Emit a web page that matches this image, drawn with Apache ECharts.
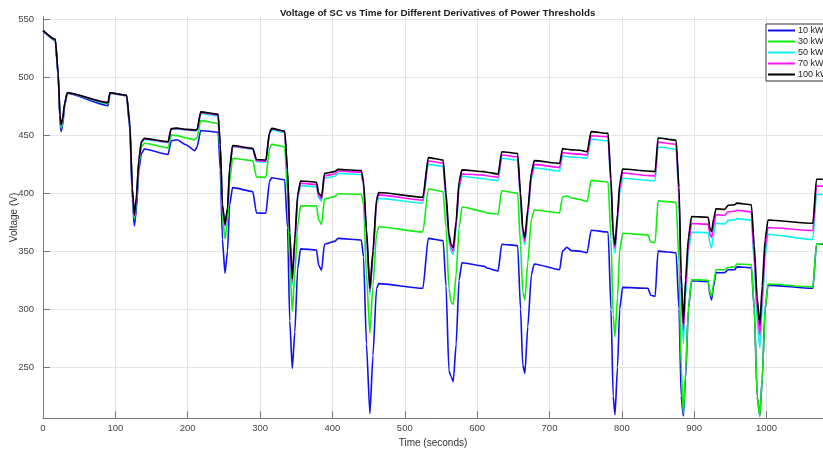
<!DOCTYPE html>
<html>
<head>
<meta charset="utf-8">
<script src="https://cdn.jsdelivr.net/npm/echarts@6/dist/echarts.min.js"></script>
<style>
  html, body { margin: 0; padding: 0; background: #fff; }
  #chart { width: 823px; height: 451px; }
</style>
</head>
<body>
<div id="chart"></div>
<script>
// time samples (seconds) shared by all curves
const time = [0, 17, 21, 23.5, 25, 27, 30, 33.5, 90, 92.5, 115.5, 120, 123.5, 126.2, 129, 132.5, 136, 140,
  173, 177, 185, 198, 210, 213, 218, 242, 245, 248, 251.5, 255, 258, 262, 290, 295, 308, 313, 316, 334,
  338, 341, 344.5, 348, 352, 356, 378, 381, 385, 389, 403, 408, 440, 443, 447, 451.8, 456, 461, 464, 525,
  532.5, 553, 557, 561, 564, 567, 571, 575, 579, 610, 613, 629, 634, 656, 660, 663, 666, 670, 675, 679,
  714, 718, 724, 730, 742, 752, 757.5, 781, 785, 788, 790.5, 794, 797, 801, 836, 840, 846, 850, 875,
  879, 882, 885, 888, 892, 896.3, 919.3, 922, 924, 927, 930, 942, 947, 956, 959, 979, 983, 987, 990.7,
  994, 998, 1002, 1064, 1069, 1078];

const v10 = [540, 531.5, 500, 462, 453, 458, 475, 486, 475.3, 486, 484, 455, 395, 371.7, 385, 420, 434, 438,
  433.4, 445, 446, 441.5, 436.6, 440, 454, 452.5, 420, 360, 331, 350, 390, 404.7, 401.3, 383, 382.6, 410, 413.3, 411.4,
  370, 290, 249, 280, 335, 352, 351, 338, 333.5, 356, 358.4, 361, 359.6, 345, 270, 210, 260, 318, 322, 318,
  361, 359, 320, 247, 242, 237.6, 270, 325, 340, 337, 335.5, 333, 356, 354.8, 300, 252, 244.7, 285, 330, 339,
  334, 350, 353.3, 350.5, 350, 348.6, 368, 366.5, 300, 225, 209, 250, 300, 318.8, 318, 312, 311, 350, 348.6,
  300, 225, 208, 240, 300, 324.5, 323.9, 312, 308, 320, 331.4, 331.5, 334, 334, 336.5, 335.7, 300, 225, 208,
  240, 300, 320.7, 318, 356, 356];

const v30 = [540, 532, 502, 464, 456, 461, 476, 486.5, 477, 486.5, 484.3, 458, 400, 377.7, 392, 425, 440, 443,
  439, 450, 449.5, 447.5, 446, 448, 462.5, 460, 435, 380, 360.5, 375, 410, 430, 428, 414, 413.6, 438, 442, 440,
  400, 340, 298.4, 330, 372, 389, 389, 377, 373, 395, 397, 399.5, 399, 390, 330, 279.5, 320, 365, 371, 366.5,
  403.6, 401.4, 370, 318, 306, 304, 330, 370, 388, 384, 383, 382, 402, 400, 355, 315, 307.9, 340, 378, 385.4,
  383, 396.7, 397.5, 396, 394.5, 392.7, 411, 409.6, 360, 295, 276.3, 310, 350, 365.4, 364, 358, 357.3, 393.4, 392,
  340, 250, 210.3, 245, 300, 325.5, 325, 314, 311, 323, 334, 334, 336, 336.5, 339, 338.4, 300, 225, 207.6,
  240, 300, 321.7, 319.2, 356, 356.5];

const v50 = [540, 532.5, 503, 466, 458, 463, 477, 486.5, 477.5, 486.5, 484.3, 459, 402, 379.5, 394, 427, 443.5, 446.3,
  443.5, 455, 455.3, 454.3, 453.6, 454, 468.5, 466.5, 440, 388, 370.5, 385, 420, 440, 437.7, 427, 426.5, 450.5, 454.5, 452,
  416, 360, 321, 355, 395, 406.5, 405.5, 396, 393, 413, 414.5, 417, 416, 406, 362, 312.4, 344, 390, 395.5, 391.5,
  424.8, 423, 393, 359, 350, 347, 370, 403, 414.5, 412.5, 412, 410.8, 430, 428.5, 392, 364, 355.3, 380, 412, 421.9,
  419, 432, 431.5, 431, 430.7, 430, 446.5, 445, 405, 360, 348, 375, 400, 412.8, 411, 410.8, 410.6, 439.7, 438,
  395, 310, 270.7, 310, 350, 366.3, 366, 356, 352.7, 365, 374, 373.5, 376.5, 377, 378, 376.7, 340, 290, 266.5,
  300, 345, 364.6, 360, 398.8, 398.8];

const v70 = [540, 532.5, 503, 466, 458.5, 463, 477, 486.5, 478, 486.5, 484.3, 459, 403, 380.5, 395, 428, 444, 446.8,
  444, 455.3, 455.7, 454.7, 454, 454.5, 469.5, 467.5, 441, 389, 372, 386, 421, 440.5, 438.2, 428, 427.5, 451.5, 455.3, 453,
  418, 363, 323.7, 358, 397, 408.5, 407.5, 398, 395, 415, 416.5, 419, 418, 408, 365, 315, 347, 393, 398.5, 394,
  427.7, 426, 396, 362, 353, 350, 373, 406, 416.5, 415.5, 415, 413.7, 432.8, 431.3, 396, 367, 358.7, 383, 415, 424.8,
  422.2, 435, 434.5, 434, 433.6, 432.8, 449.4, 448.7, 408, 363, 352.5, 378, 404, 417.3, 415.2, 415, 414.8, 443.8, 442,
  400, 320, 282.2, 318, 356, 373.8, 373.3, 364, 361.9, 372, 381.4, 381, 384, 384.4, 385.2, 383.8, 345, 300, 277.9,
  310, 352, 370.4, 367.8, 406, 406];

const v100 = [540, 532.5, 503, 467, 459, 463.5, 477.5, 486.5, 478, 486.5, 484.3, 460, 404, 381.2, 396, 429, 444.5, 447.2,
  444.3, 455.5, 456, 455, 454.4, 455, 470, 468, 442, 390, 373.1, 387, 422, 441, 438.6, 429, 428.5, 452, 455.8, 453.5,
  420, 366, 326.6, 361, 399, 410.5, 409.4, 400, 397, 417, 418.5, 420.5, 419.4, 410, 370, 318, 350, 395, 400.5, 396.5,
  430.6, 428.5, 400, 365, 356, 353, 376, 410, 420, 418.5, 418, 416.5, 435.7, 434.2, 400, 370, 361.6, 386, 418, 428,
  425.5, 438.3, 437.8, 437.3, 437, 435.7, 453, 451.5, 412, 366, 355.3, 382, 408, 420.8, 419, 418.8, 418.6, 447.5, 445.6,
  405, 330, 287.9, 325, 362, 379.8, 379.2, 369, 367, 378, 386.5, 386, 389.5, 390, 391.4, 390, 355, 310, 286.5,
  320, 360, 376.8, 374, 412, 412];

const seriesNames = ['10 kW', '30 kW', '50 kW', '70 kW', '100 kW'];
const seriesColors = ['#1010f0', '#10ee10', '#10f0f0', '#ff10ff', '#000000'];
const seriesValues = [v10, v30, v50, v70, v100];

const font = 'Liberation Sans, Arial, Helvetica, sans-serif';

const chart = echarts.init(document.getElementById('chart'));

// pair each value with its time
const series = seriesValues.map((vals, i) => ({
  name: seriesNames[i],
  type: 'line',
  symbol: 'none',
  smooth: 0.2,
  smoothMonotone: 'x',
  data: vals.map((v, j) => [time[j], v]),
  lineStyle: { color: seriesColors[i], width: 1.6 },
  itemStyle: { color: seriesColors[i] },
  animation: false,
  z: 2 + i
}));

chart.setOption({
  backgroundColor: '#fff',
  title: {
    text: 'Voltage of SC vs Time for Different Derivatives of Power Thresholds',
    left: 275,
    top: 3,
    textStyle: { fontFamily: font, fontSize: 9.8, fontWeight: 'bold', color: '#1a1a1a' }
  },
  legend: {
    left: 766,
    top: 24,
    orient: 'vertical',
    icon: 'rect',
    itemWidth: 27,
    itemHeight: 2,
    itemGap: 0,
    padding: [1, 6, 1, 2],
    borderColor: '#333',
    borderWidth: 1,
    backgroundColor: '#fff',
    textStyle: { fontFamily: font, fontSize: 9, color: '#222', lineHeight: 11, padding: [0, 0, 0, -2] },
    data: seriesNames
  },
  grid: { left: 43, right: 0, top: 16.7, bottom: 32.7, outerBoundsMode: 'none', containLabel: false },
  xAxis: {
    type: 'value',
    min: 0,
    max: 1078,
    interval: 100,
    name: 'Time (seconds)',
    nameLocation: 'middle',
    nameGap: 17,
    nameTextStyle: { fontFamily: font, fontSize: 10, color: '#333' },
    axisLine: { lineStyle: { color: '#777', width: 1 } },
    axisTick: { inside: true, length: 7, lineStyle: { color: '#777' } },
    axisLabel: { fontFamily: font, fontSize: 9.5, color: '#444', margin: 5, showMaxLabel: false, formatter: v => String(v) },
    splitLine: { lineStyle: { color: '#e4e4e4', width: 1 } }
  },
  yAxis: {
    type: 'value',
    min: 206,
    max: 552,
    splitNumber: 7,
    name: 'Voltage (V)',
    nameLocation: 'middle',
    nameGap: 24,
    nameMoveOverlap: false,
    nameTextStyle: { fontFamily: font, fontSize: 10, color: '#333' },
    axisLine: { show: true, lineStyle: { color: '#777', width: 1 } },
    axisTick: { show: true, inside: true, length: 7, lineStyle: { color: '#777' } },
    axisLabel: { fontFamily: font, fontSize: 9.5, color: '#444', margin: 9, showMinLabel: false, showMaxLabel: false },
    splitLine: { showMinLine: false, showMaxLine: false, lineStyle: { color: '#e4e4e4', width: 1 } }
  },
  series: series
});
</script>
</body>
</html>
